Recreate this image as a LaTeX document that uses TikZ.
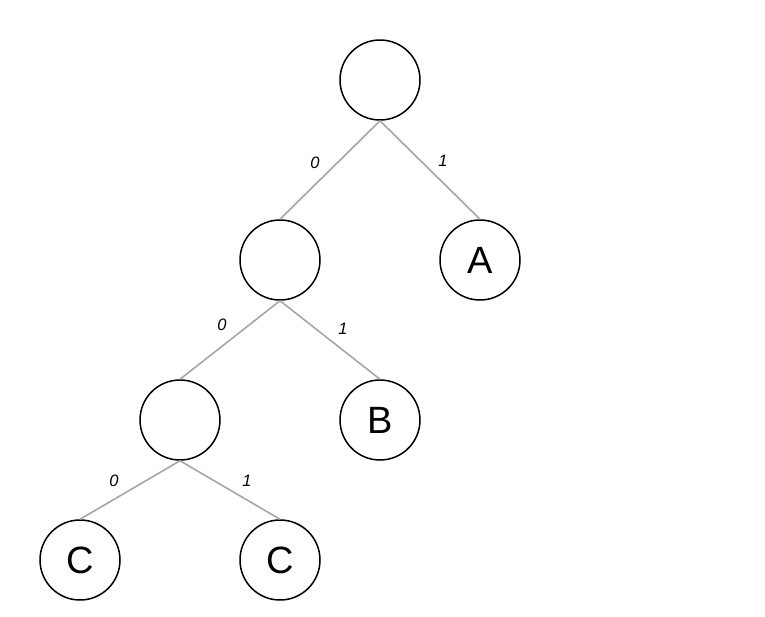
\documentclass[tikz,border=0pt]{standalone}
\usepackage{fontspec}
\setmainfont{Liberation Sans}
\begin{document}
\begin{tikzpicture}[x=1pt,y=-1pt,
  treenode/.style={circle,draw=black,line width=1.5pt,minimum size=80pt,inner sep=0pt,font=\fontsize{38}{38}\selectfont},
  edge/.style={draw=black!35,line width=1.6pt},
  lbl/.style={font=\itshape\fontsize{16.5}{16.5}\selectfont,inner sep=0pt}]
\useasboundingbox (0,0) rectangle (765,616);
\node[treenode] (r) at (380,80) {};
\node[treenode] (l) at (280,260) {};
\node[treenode] (a) at (480,260) {A};
\node[treenode] (ll) at (180,420) {};
\node[treenode] (b) at (380,420) {B};
\node[treenode] (c1) at (80,560) {C};
\node[treenode] (c2) at (280,560) {C};
\draw[edge] (r.south) -- node[lbl,xshift=-15pt,yshift=7pt]{0} (l.north);
\draw[edge] (r.south) -- node[lbl,xshift=13pt,yshift=9pt]{1} (a.north);
\draw[edge] (l.south) -- node[lbl,xshift=-8pt,yshift=15pt]{0} (ll.north);
\draw[edge] (l.south) -- node[lbl,xshift=13pt,yshift=11pt]{1} (b.north);
\draw[edge] (ll.south) -- node[lbl,xshift=-16pt,yshift=9pt]{0} (c1.north);
\draw[edge] (ll.south) -- node[lbl,xshift=17pt,yshift=9pt]{1} (c2.north);
\end{tikzpicture}
\end{document}
